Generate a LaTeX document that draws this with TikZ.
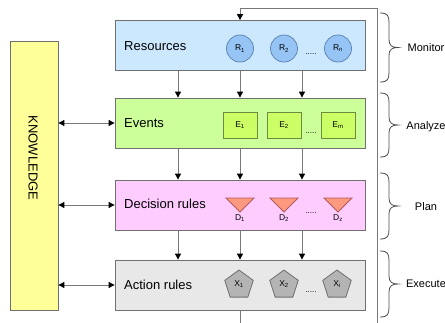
\documentclass[tikz,border=0pt]{standalone}
\usepackage{fontspec}
\setmainfont{Liberation Sans}
\usetikzlibrary{arrows.meta,shapes.geometric}
\definecolor{boxborder}{RGB}{112,112,112}
\definecolor{linegray}{RGB}{120,120,120}
\definecolor{resfill}{RGB}{204,232,255}
\definecolor{circfill}{RGB}{150,196,245}
\definecolor{circborder}{RGB}{95,134,181}
\definecolor{evfill}{RGB}{204,255,153}
\definecolor{eboxfill}{RGB}{204,255,102}
\definecolor{eboxborder}{RGB}{110,139,61}
\definecolor{decfill}{RGB}{255,204,255}
\definecolor{trifill}{RGB}{255,153,128}
\definecolor{triborder}{RGB}{176,90,90}
\definecolor{actfill}{RGB}{232,232,232}
\definecolor{pentfill}{RGB}{180,180,180}
\definecolor{pentborder}{RGB}{110,110,110}
\definecolor{knowfill}{RGB}{255,255,153}
\begin{document}
\begin{tikzpicture}[x=1pt,y=-1pt,
  layer/.style={draw=boxborder, line width=0.8pt, minimum width=250pt, minimum height=50pt, inner sep=0pt},
  lbl/.style={anchor=west, font=\fontsize{13}{15}\selectfont, inner sep=0pt},
  sidelbl/.style={font=\fontsize{11}{13}\selectfont, inner sep=0pt},
  sublbl/.style={font=\fontsize{8.5}{10}\selectfont, inner sep=0pt},
  dotlbl/.style={font=\fontsize{8}{10}\selectfont, inner sep=0pt, anchor=base},
  rcirc/.style={circle, draw=circborder, line width=0.8pt, fill=circfill, minimum size=27pt, inner sep=0pt, font=\fontsize{8.5}{10}\selectfont},
  ebox/.style={rectangle, draw=eboxborder, line width=0.8pt, fill=eboxfill, minimum width=34pt, minimum height=26pt, inner sep=0pt, font=\fontsize{8.5}{10}\selectfont},
  tri/.style={draw=triborder, line width=0.8pt, fill=trifill},
  pent/.style={regular polygon, regular polygon sides=5, draw=pentborder, line width=0.8pt, fill=pentfill, minimum size=30pt, inner sep=0pt},
  arr/.style={draw=linegray, line width=0.9pt, -{Triangle[length=6pt,width=6pt,color=black]}},
  darr/.style={draw=linegray, line width=0.9pt, {Triangle[length=6pt,width=6pt,color=black]}-{Triangle[length=6pt,width=6pt,color=black]}},
  bracestyle/.style={draw=black!70, line width=0.8pt},
  fbline/.style={draw=linegray, line width=0.9pt}
]
\useasboundingbox (0,0) rectangle (445,322);

% knowledge
\node[draw=boxborder, line width=0.8pt, fill=knowfill, minimum width=48pt, minimum height=269pt, inner sep=0pt] (know) at (34,175.5) {};
\node[rotate=-90, font=\fontsize{13}{15}\selectfont, inner sep=0pt] (knowtxt) at (33,158) {KNOWLEDGE};

% layers
\node[layer, fill=resfill] (res) at (240,45.5) {};
\node[layer, fill=evfill] (ev) at (240,123) {};
\node[layer, fill=decfill] (dec) at (240,205) {};
\node[layer, fill=actfill] (act) at (240,285) {};

\node[lbl] (reslbl) at (124,46) {Resources};
\node[lbl] (evlbl) at (124,123) {Events};
\node[lbl] (declbl) at (124,204) {Decision rules};
\node[lbl] (actlbl) at (124,285) {Action rules};

% resources
\node[rcirc] (r1) at (240,48.5) {R\textsubscript{1}};
\node[rcirc] (r2) at (284,48.5) {R\textsubscript{2}};
\node[rcirc] (rn) at (338,48.5) {R\textsubscript{n}};
\node[dotlbl] (rdots) at (311,54) {.....};

% events
\node[ebox] (e1) at (240,125) {E\textsubscript{1}};
\node[ebox] (e2) at (284,125) {E\textsubscript{2}};
\node[ebox] (em) at (338,125) {E\textsubscript{m}};
\node[dotlbl] (edots) at (311,133) {.....};

% decision triangles
\foreach \cx/\nm/\s in {240/d1/1, 284/d2/2, 338/dz/z}{
  \draw[tri] (\cx-14,198) -- (\cx+14,198) -- (\cx,212) -- cycle;
  \node[sublbl] (\nm) at (\cx,218) {D\textsubscript{\s}};
}
\node[dotlbl] (ddots) at (311,213) {.....};

% action pentagons
\node[pent] (x1) at (239,285) {};
\node[pent] (x2) at (284,285) {};
\node[pent] (xi) at (337,285) {};
\node[sublbl] (x1l) at (239,284) {X\textsubscript{1}};
\node[sublbl] (x2l) at (284,284) {X\textsubscript{2}};
\node[sublbl] (xil) at (337,284) {X\textsubscript{i}};
\node[dotlbl] (xdots) at (311,292) {.....};

% vertical arrows between layers
\coordinate (c1) at (178,0);
\coordinate (c2) at (240,0);
\coordinate (c3) at (302,0);
\foreach \c in {c1,c2,c3}{
  \draw[arr] (res.south -| \c) -- (ev.north -| \c);
  \draw[arr] (ev.south -| \c) -- (dec.north -| \c);
  \draw[arr] (dec.south -| \c) -- (act.north -| \c);
}

% knowledge arrows
\draw[darr] (know.east |- ev.west) -- (ev.west);
\draw[darr] (know.east |- dec.west) -- (dec.west);
\draw[darr] (know.east |- act.west) -- (act.west);

% feedback loop
\coordinate (fbbotL) at (240,335);
\coordinate (fbbotR) at (377,335);
\coordinate (fbtop) at (377,8);
\draw[fbline] (act.south) -- (fbbotL) -- (fbbotR) -- (fbtop);
\draw[arr] (fbtop) -- (fbtop -| res.north) -- (res.north);

% braces
\foreach \ya/\yb in {13/82, 93/157, 173/239, 251/317}{
  \pgfmathsetmacro{\ym}{(\ya+\yb)/2}
  \draw[bracestyle] (380,\ya) .. controls (388,\ya) and (389,\ya+3) .. (389,\ya+10)
    -- (389,\ym-8) .. controls (389,\ym-2) and (392,\ym) .. (398,\ym)
    .. controls (392,\ym) and (389,\ym+2) .. (389,\ym+8)
    -- (389,\yb-10) .. controls (389,\yb-3) and (388,\yb) .. (380,\yb);
}
\node[sidelbl] (mon) at (426,48) {Monitor};
\node[sidelbl] (ana) at (426,127) {Analyze};
\node[sidelbl] (pla) at (426,207) {Plan};
\node[sidelbl] (exe) at (426,284) {Execute};
\end{tikzpicture}
\end{document}
